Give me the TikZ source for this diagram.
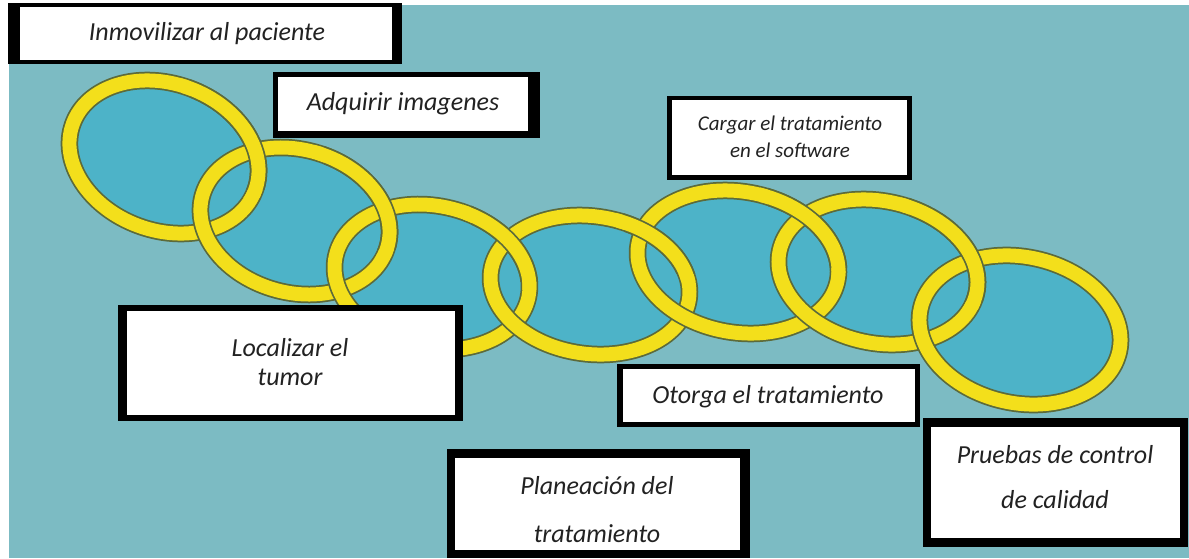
\documentclass[tikz,border=0pt]{standalone}
\usepackage{fontspec}
\setmainfont{Carlito}
\definecolor{bgteal}{HTML}{7CBBC3}
\definecolor{ringin}{HTML}{4DB3C8}
\definecolor{ringyel}{HTML}{F3DF1B}
\definecolor{ringdark}{HTML}{5C6A3A}
\definecolor{textc}{HTML}{222222}
\tikzset{
  ringshadow/.style={draw=ringdark, line width=17.5pt},
  ringband/.style={draw=ringyel, line width=14pt},
  lbl/.style={font=\fontsize{26}{29}\selectfont\itshape, align=center, text=textc, inner sep=0pt},
  boxborder/.style={fill=black},
  boxinner/.style={fill=white},
}
\newcommand\ringfill[5]{%
  \begin{scope}[rotate around={#5:(#1,#2)}]
    \fill[ringin] (#1,#2) ellipse [x radius=#3pt, y radius=#4pt];
  \end{scope}}
\newcommand\ringdraw[5]{%
  \begin{scope}[rotate around={#5:(#1,#2)}]
    \draw[ringshadow] (#1,#2) ellipse [x radius=#3pt, y radius=#4pt];
    \draw[ringband] (#1,#2) ellipse [x radius=#3pt, y radius=#4pt];
  \end{scope}}
\newcommand\ringover[7]{%
  \begin{scope}
    \clip (#6-40,0) rectangle (#6+40,#7);
    \begin{scope}[rotate around={#5:(#1,#2)}]
      \draw[ringshadow] (#1,#2) ellipse [x radius=#3pt, y radius=#4pt];
    \end{scope}
  \end{scope}
  \begin{scope}
    \clip (#6-48,0) rectangle (#6+48,#7+8);
    \begin{scope}[rotate around={#5:(#1,#2)}]
      \draw[ringband] (#1,#2) ellipse [x radius=#3pt, y radius=#4pt];
    \end{scope}
  \end{scope}}
\begin{document}
\begin{tikzpicture}[x=1pt,y=-1pt]
\useasboundingbox (0,0) rectangle (1189,558);
\fill[white] (0,0) rectangle (1189,558);
\fill[bgteal] (9,5) rectangle (1189,558);
% ring interiors
\ringfill{164}{157}{97}{73.4}{-20}
\ringfill{295}{221}{96}{71.6}{-15}
\ringfill{432}{277}{98.5}{71.1}{-12}
\ringfill{590}{285}{100}{68.8}{-8}
\ringfill{738}{262}{101.3}{70.4}{-10}
\ringfill{878}{272}{100.6}{71}{-12}
\ringfill{1020}{330}{101.6}{73.1}{-12}
% ring bands
\ringdraw{164}{157}{97}{73.4}{-20}
\ringdraw{295}{221}{96}{71.6}{-15}
\ringdraw{432}{277}{98.5}{71.1}{-12}
\ringdraw{590}{285}{100}{68.8}{-8}
\ringdraw{738}{262}{101.3}{70.4}{-10}
\ringdraw{878}{272}{100.6}{71}{-12}
\ringdraw{1020}{330}{101.6}{73.1}{-12}
% interlocking
\ringover{164}{157}{97}{73.4}{-20}{229.5}{189}
\ringover{295}{221}{96}{71.6}{-15}{363.5}{249}
\ringover{432}{277}{98.5}{71.1}{-12}{511}{281}
\ringover{590}{285}{100}{68.8}{-8}{664}{273.5}
\ringover{738}{262}{101.3}{70.4}{-10}{808}{267}
\ringover{878}{272}{100.6}{71}{-12}{949}{301}
% boxes
\fill[boxborder] (8,3) rectangle (402,64);
\fill[boxinner] (20,7) rectangle (392,60);
\node[lbl] (b1) at (207,34) {Inmovilizar al paciente};
\fill[boxborder] (273,72) rectangle (540,138);
\fill[boxinner] (278,77) rectangle (528,131);
\node[lbl] (b2) at (403,104) {Adquirir imagenes};
\fill[boxborder] (667,96) rectangle (912,180);
\fill[boxinner] (672,100) rectangle (907,175);
\node[lbl, font=\fontsize{21}{27}\selectfont\itshape] (b3) at (790,137) {Cargar el tratamiento\\en el software};
\fill[boxborder] (118,305) rectangle (463,421);
\fill[boxinner] (127,311) rectangle (455,415);
\node[lbl] (b4) at (290,362) {Localizar el\\tumor};
\fill[boxborder] (617,364) rectangle (920,427);
\fill[boxinner] (623,369) rectangle (915,422);
\node[lbl] (b5) at (768,397) {Otorga el tratamiento};
\fill[boxborder] (447,449) rectangle (750,558);
\fill[boxinner] (455,458) rectangle (740,550);
\node[lbl, font=\fontsize{26}{48}\selectfont\itshape] (b6) at (597,510) {Planeación del\\tratamiento};
\fill[boxborder] (923,418) rectangle (1188,547);
\fill[boxinner] (931,427) rectangle (1180,538);
\node[lbl, font=\fontsize{26}{45}\selectfont\itshape] (b7) at (1055,477) {Pruebas de control\\de calidad};
\end{tikzpicture}
\end{document}
